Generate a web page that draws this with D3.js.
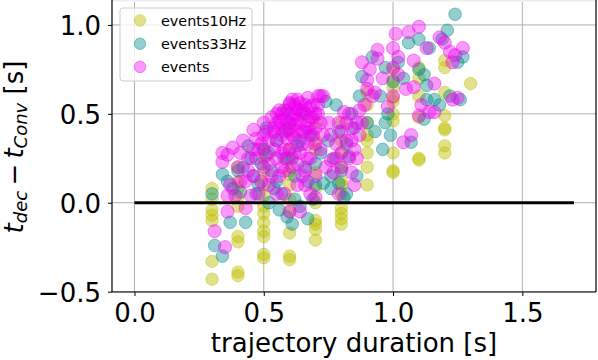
<!DOCTYPE html>
<html><head><meta charset="utf-8">
<script src="https://cdn.jsdelivr.net/npm/d3@7"></script>
<style>body{margin:0;background:#fff}svg{display:block;font-family:"DejaVu Sans",sans-serif}</style>
</head><body><svg id="c" width="598" height="360"></svg>
<script>
const xTicks=[0,0.5,1.0,1.5];
const yTicks=[-0.5,0,0.5,1.0];
const seriesNames=["events10Hz","events33Hz","events"];
const seriesColors=["#bfbf00","#008b8b","#f000f0"];
const refLine=[[0,0],[1.7,0]];

// events10Hz
const x10=[0.3,0.3,0.3,0.3,0.3,0.3,0.3,
 0.4,0.4,0.4,0.4,0.4,0.4,0.4,0.4,0.4,
 0.5,0.5,0.5,0.5,0.5,0.5,0.5,0.5,0.5,0.5,0.5,0.5,
 0.6,0.6,0.6,0.6,0.6,0.6,0.6,0.6,0.6,0.6,0.6,
 0.7,0.7,0.7,0.7,0.7,0.7,0.7,0.7,0.7,0.7,
 0.8,0.8,0.8,0.8,0.8,0.8,0.8,0.8,0.8,0.8,0.8,
 0.9,0.9,0.9,0.9,0.9,0.9,0.9,0.9,
 1.0,1.0,1.0,1.0,1.0,1.0,1.0,1.0,1.0,1.0,
 1.1,1.1,1.1,1.1,1.1,1.1,
 1.2,1.2,1.2,1.2,1.2,1.2,1.2,1.2,
 1.3];
const y10=[-0.04,-0.07,-0.10,-0.33,-0.43,0.02,0.08,
 0.2,0.12,0.08,0.03,-0.02,-0.19,-0.22,-0.39,-0.41,
 0.3,0.25,0.17,0.1,0.04,-0.02,-0.06,-0.11,-0.16,-0.19,-0.29,-0.31,
 0.4,0.3,0.25,0.18,0.16,0.1,0.02,-0.05,-0.17,-0.30,-0.32,
 0.45,0.35,0.3,0.17,0.08,0.0,-0.1,-0.12,-0.15,-0.21,
 0.45,0.35,0.28,0.2,0.12,0.1,0.05,-0.03,-0.06,-0.09,-0.12,
 0.62,0.55,0.45,0.38,0.35,0.28,0.2,0.1,
 0.75,0.69,0.65,0.59,0.57,0.5,0.46,0.28,0.18,0.17,
 0.76,0.7,0.6,0.48,0.25,0.24,
 0.8,0.76,0.62,0.49,0.42,0.41,0.32,0.28,
 0.67];

// events33Hz
const x33=[0.31,0.34,0.37,0.43,0.52,0.59,0.61,0.67,0.73,0.76,0.82,0.79,0.34,0.4,0.3,
 0.42,0.45,0.48,0.5,0.53,0.55,0.57,0.58,0.6,0.62,0.63,0.65,0.66,0.68,0.7,0.72,0.74,0.69,0.64,0.56,0.47,0.44,0.51,0.59,0.54,0.38,0.62,
 0.46,0.49,0.52,0.55,0.58,0.61,0.64,0.67,0.7,0.36,0.41,
 0.77,0.79,0.8,0.82,0.84,0.86,0.88,0.85,0.83,0.87,0.9,0.78,0.81,0.76,0.75,
 0.95,0.98,1.04,1.02,1.06,1.1,1.07,1.12,1.13,1.16,1.14,1.19,1.21,1.24,1.27,1.25,1.1,1.12,0.93,0.96,1.0,1.22,1.18,0.92,0.97,0.97,0.99,1.26,1.13];
const y33=[-0.24,-0.30,-0.11,-0.11,0.0,-0.08,-0.12,-0.09,0.11,0.08,0.05,0.11,0.16,0.18,0.05,
 0.2,0.25,0.1,0.3,0.18,0.35,0.05,0.25,0.45,0.15,0.32,0.5,0.2,0.38,0.1,0.28,0.57,0.02,-0.02,-0.04,0.05,0.32,0.42,0.52,0.08,0.08,0.02,
 0.15,0.22,0.28,0.12,0.4,0.25,0.35,0.12,0.22,0.12,0.06,
 0.25,0.4,0.18,0.33,0.5,0.15,0.71,0.42,0.26,0.6,0.45,0.55,0.03,0.15,0.35,
 0.6,0.5,0.7,0.79,0.9,0.92,0.34,0.47,0.66,0.58,0.87,0.92,0.97,1.06,0.82,0.79,0.75,0.72,0.4,0.3,0.68,0.6,0.55,0.82,0.76,0.45,0.38,0.58,0.58];

// events
const xEv=[0.34,0.36,0.38,0.42,0.46,0.5,0.55,0.6,0.63,0.67,0.71,0.69,
 0.34,0.36,0.39,0.45,0.31,0.35,0.36,0.43,0.37,0.4,0.41,0.44,0.46,0.48,0.48,0.5,0.52,0.52,0.54,0.55,0.56,0.57,0.58,0.58,
 0.6,0.6,0.61,0.62,0.62,0.63,0.64,0.64,0.65,0.66,0.66,0.67,0.68,0.68,0.7,0.7,0.71,0.72,0.73,0.6,0.64,0.68,0.66,0.7,
 0.53,0.56,0.59,0.61,0.57,0.55,0.5,0.47,0.44,0.49,0.51,0.63,0.65,0.69,0.62,0.67,0.58,0.54,0.75,0.76,
 0.47,0.49,0.51,0.52,0.53,0.55,0.56,0.57,0.58,0.59,0.6,0.61,0.62,0.63,0.64,0.65,0.66,0.67,0.68,0.69,0.7,0.71,0.72,0.73,0.55,0.57,0.59,0.61,0.63,0.65,0.46,0.43,0.41,
 0.54,0.56,0.58,0.6,0.62,0.64,0.66,0.68,0.7,0.59,0.63,0.67,
 0.81,0.79,0.78,0.8,0.83,0.84,0.77,0.82,0.85,0.86,0.87,0.88,0.9,0.91,0.9,0.92,0.84,0.8,0.76,0.72,0.83,0.87,0.89,0.79,0.74,0.85,0.94,0.94,
 0.8,0.82,0.86,0.78,0.84,0.88,
 1.0,1.01,1.06,1.1,1.02,1.08,1.13,1.27,1.23,1.0,1.02,1.0,1.05,1.08,1.16,1.23,1.25,1.16,1.1,1.14,1.04,1.07,0.93,0.96,1.2,1.22,1.18,0.98,1.11,1.24];
const yEv=[0.28,0.27,0.31,0.35,0.41,0.45,0.5,0.55,0.58,0.59,0.6,0.55,
 0.23,0.04,0.04,0.04,-0.16,-0.25,-0.05,-0.03,0.1,0.2,0.12,0.25,0.15,0.3,0.05,0.2,0.35,0.1,0.42,0.25,0.15,0.38,0.47,0.05,
 0.3,0.42,0.2,0.5,0.36,0.1,0.45,0.28,0.52,0.4,0.18,0.33,0.48,0.25,0.42,0.15,0.5,0.3,0.6,-0.05,-0.05,0.05,0.1,0.03,
 0.48,0.52,0.36,0.47,0.28,0.05,0.38,0.36,0.18,0.12,0.27,0.4,0.33,0.38,0.55,0.46,0.18,0.3,0.45,0.38,
 0.25,0.33,0.4,0.22,0.15,0.35,0.42,0.2,0.3,0.45,0.5,0.38,0.28,0.47,0.52,0.4,0.55,0.25,0.4,0.48,0.33,0.55,0.45,0.38,0.45,0.5,0.25,0.58,0.22,0.15,0.3,0.12,0.28,
 0.4,0.46,0.52,0.56,0.44,0.56,0.5,0.54,0.5,0.41,0.53,0.42,
 0.51,0.45,0.33,0.2,0.5,0.17,0.17,0.35,0.3,0.45,0.52,0.79,0.69,0.75,0.64,0.6,0.42,0.28,0.24,0.6,0.25,0.38,0.55,0.05,0.2,0.1,0.86,0.81,
 0.4,0.45,0.25,0.25,0.35,0.45,
 0.87,0.95,0.96,0.99,0.82,0.8,0.87,0.87,0.79,0.76,0.72,0.6,0.64,0.65,0.67,0.58,0.59,0.51,0.49,0.51,0.34,0.38,0.62,0.7,0.9,0.85,0.93,0.54,0.55,0.83];

const W=598,H=360;
const L=112,R=596,T=2,B=292;
const x=d3.scaleLinear().domain([-0.087,1.785]).range([L,R]);
const y=d3.scaleLinear().domain([-0.502,1.129]).range([B,T]);
const svg=d3.select("#c");

svg.append("rect").attr("x",L).attr("y",0).attr("width",R-L).attr("height",1.5).attr("fill","#eeeeee");

// grid
const g=svg.append("g");
g.selectAll(".gx").data(xTicks).join("line").attr("x1",d=>x(d)).attr("x2",d=>x(d)).attr("y1",T).attr("y2",B)
 .attr("stroke","#b0b0b0").attr("stroke-width",1);
g.selectAll(".gy").data(yTicks).join("line").attr("y1",d=>y(d)).attr("y2",d=>y(d)).attr("x1",L).attr("x2",R)
 .attr("stroke","#b0b0b0").attr("stroke-width",1);

const radius=[6.2,6.3,6.6];
const alpha=[0.45,0.42,0.4];

const sets=[[x10,y10],[x33,y33],[xEv,yEv]];
sets.forEach((s,i)=>{
  const pts=s[0].map((v,k)=>[v,s[1][k]]);
  svg.append("g").selectAll("circle").data(pts).join("circle")
    .attr("cx",d=>x(d[0])).attr("cy",d=>y(d[1])).attr("r",radius[i])
    .attr("fill",seriesColors[i]).attr("fill-opacity",alpha[i])
    .attr("stroke",seriesColors[i]).attr("stroke-opacity",alpha[i]).attr("stroke-width",1);
});

// zero reference line
svg.append("path").datum(refLine).attr("d",d3.line().x(d=>x(d[0])).y(d=>y(d[1])))
 .attr("stroke","#000").attr("stroke-width",3.2).attr("fill","none");

// axes
const ax=svg.append("g").attr("transform",`translate(0,${B})`)
 .call(d3.axisBottom(x).tickValues(xTicks).tickFormat(d3.format(".1f")).tickSize(4).tickPadding(8));
const ay=svg.append("g").attr("transform",`translate(${L},0)`)
 .call(d3.axisLeft(y).tickValues(yTicks).tickFormat(d=>d3.format(".1f")(d).replace("-","\u2212")).tickSize(4).tickPadding(7));
[ax,ay].forEach(a=>{a.select(".domain").remove();a.selectAll("text").attr("font-size",26).attr("font-family","DejaVu Sans").attr("fill","#000");a.selectAll("line").attr("stroke","#000");});
ax.selectAll("text").attr("dy",null).attr("y",30);
ay.selectAll("text").attr("dy","0.36em");

// spines
svg.append("line").attr("x1",L).attr("x2",L).attr("y1",0).attr("y2",B).attr("stroke","#000").attr("stroke-width",1.2);
svg.append("line").attr("x1",R).attr("x2",R).attr("y1",0).attr("y2",B).attr("stroke","#000").attr("stroke-width",1.2);
svg.append("line").attr("x1",L).attr("x2",R).attr("y1",B).attr("y2",B).attr("stroke","#000").attr("stroke-width",1.2);

// x label
svg.append("text").attr("x",(L+R)/2).attr("y",352).attr("text-anchor","middle").attr("font-size",26).text("trajectory duration [s]");

// y label
const yl=svg.append("text").attr("transform",`translate(23,147) rotate(-90)`).attr("text-anchor","middle").attr("font-size",26);
yl.append("tspan").attr("font-style","italic").text("t");
yl.append("tspan").attr("font-style","italic").attr("font-size",18).attr("dy",4).text("dec");
yl.append("tspan").attr("dy",-4).text("\u2009\u2212\u2009");
yl.append("tspan").attr("font-style","italic").text("t");
yl.append("tspan").attr("font-style","italic").attr("font-size",18).attr("dy",4).text("Conv");
yl.append("tspan").attr("dy",-4).text(" [s]");

// legend
const lg=svg.append("g");
lg.append("rect").attr("x",120).attr("y",8).attr("width",132).attr("height",73).attr("rx",3)
 .attr("fill","#fff").attr("fill-opacity",0.8).attr("stroke","#cccccc").attr("stroke-width",1);
seriesNames.forEach((n,i)=>{
  const cy=20.5+i*23.2;
  lg.append("circle").attr("cx",140).attr("cy",cy).attr("r",5.8)
    .attr("fill",seriesColors[i]).attr("fill-opacity",alpha[i]).attr("stroke",seriesColors[i]).attr("stroke-opacity",alpha[i]);
  lg.append("text").attr("x",161).attr("y",cy+5.2).attr("font-size",14.4).text(n);
});
</script></body></html>
